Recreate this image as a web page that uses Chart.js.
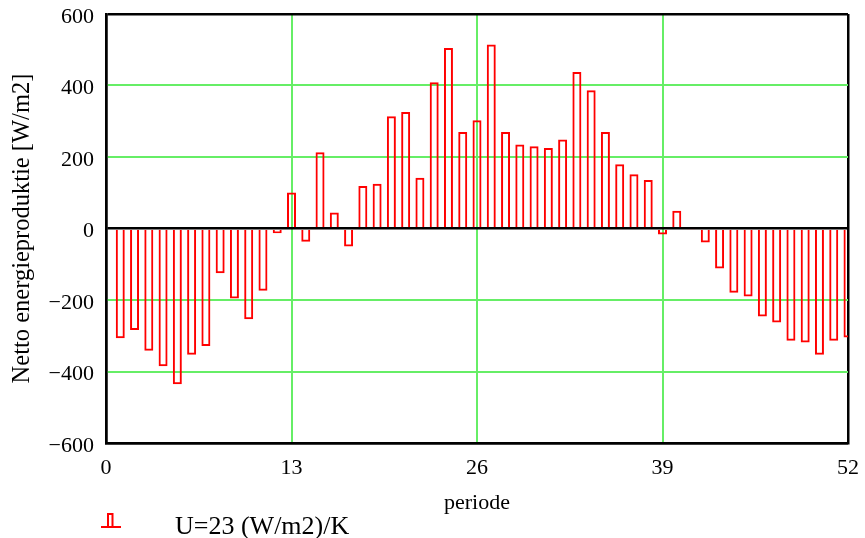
<!DOCTYPE html>
<html>
<head>
<meta charset="utf-8">
<script src="https://cdn.jsdelivr.net/npm/chart.js@4/dist/chart.umd.min.js"></script>
<style>
  html, body { margin: 0; padding: 0; background: #ffffff; }
  #wrap { width: 865px; height: 538px; position: relative; }
</style>
</head>
<body>
<div id="wrap"><canvas id="c" width="865" height="538"></canvas></div>
<script>
// ---- data ----
const periods = [1,2,3,4,5,6,7,8,9,10,11,12,13,14,15,16,17,18,19,20,21,22,23,24,25,26,
                 27,28,29,30,31,32,33,34,35,36,37,38,39,40,41,42,43,44,45,46,47,48,49,50,51,52];
const netProduction = [-307,-284,-342,-385,-436,-353,-329,-125,-196,-254,-174,-13,101,-37,213,45,-50,119,125,314,326,142,409,505,270,303,
                       515,270,235,230,225,249,438,387,270,180,152,136,-17,50,-3,-39,-112,-180,-190,-246,-263,-314,-319,-353,-314,-305];
const seriesLabel = 'U=23 (W/m2)/K';
const xTitle = 'periode';
const yTitle = 'Netto energieproduktie [W/m2]';
const xTicks = [0, 13, 26, 39, 52];
const yTicks = [-600, -400, -200, 0, 200, 400, 600];

const GRID_GREEN = '#66ee66';
const FONT = '"Liberation Serif", "Times New Roman", serif';

const points = periods.map((p, i) => ({ x: p, y: netProduction[i] }));

const legendPlugin = {
  id: 'mathcadLegend',
  afterDraw(chart) {
    const ctx = chart.ctx;
    const ds = chart.data.datasets[0];
    ctx.save();
    ctx.strokeStyle = ds.borderColor;
    ctx.lineWidth = 2;
    ctx.beginPath();
    ctx.moveTo(101, 527); ctx.lineTo(121, 527);
    ctx.moveTo(108, 527); ctx.lineTo(108, 514); ctx.lineTo(112.5, 514); ctx.lineTo(112.5, 527);
    ctx.stroke();
    ctx.fillStyle = '#000000';
    ctx.font = '26px ' + FONT;
    ctx.textBaseline = 'alphabetic';
    ctx.textAlign = 'left';
    ctx.fillText(ds.label, 175, 534);
    ctx.restore();
  }
};

new Chart(document.getElementById('c'), {
  type: 'bar',
  data: {
    datasets: [{
      label: seriesLabel,
      data: points,
      backgroundColor: 'rgba(255,255,255,0)',
      borderColor: '#ff0000',
      borderWidth: 2,
      categoryPercentage: 1.0,
      barPercentage: 0.63
    }]
  },
  options: {
    responsive: false,
    animation: false,
    events: [],
    layout: { padding: { left: 0, right: 17, top: 14, bottom: 22 } },
    plugins: {
      legend: { display: false },
      tooltip: { enabled: false }
    },
    scales: {
      x: {
        type: 'linear',
        min: 0, max: 52,
        offset: false,
        afterBuildTicks(scale) { scale.ticks = xTicks.map(v => ({ value: v })); },
        afterFit(scale) { scale.height = 73; scale.paddingLeft = 0; scale.paddingRight = 0; },
        grid: {
          drawTicks: false,
          offset: false,
          color: ctx => (ctx.tick && (ctx.tick.value === 0 || ctx.tick.value === 52)) ? '#000000' : GRID_GREEN,
          lineWidth: ctx => (ctx.tick && (ctx.tick.value === 0 || ctx.tick.value === 52)) ? 2.5 : 2
        },
        border: { display: true, color: '#000000', width: 2.5 },
        ticks: {
          padding: 12,
          color: '#000000',
          font: { family: FONT, size: 22 },
          maxRotation: 0,
          autoSkip: false
        },
        title: {
          display: true,
          text: xTitle,
          color: '#000000',
          font: { family: FONT, size: 22 },
          padding: { top: 0, bottom: 0 }
        }
      },
      y: {
        type: 'linear',
        min: -600, max: 600,
        afterBuildTicks(scale) { scale.ticks = yTicks.map(v => ({ value: v })); },
        afterFit(scale) { scale.width = 106; scale.paddingTop = 0; scale.paddingBottom = 0; },
        grid: {
          drawTicks: false,
          color: ctx => (ctx.tick && (ctx.tick.value === 0 || ctx.tick.value === 600 || ctx.tick.value === -600)) ? '#000000' : GRID_GREEN,
          lineWidth: ctx => (ctx.tick && (ctx.tick.value === 0 || ctx.tick.value === 600 || ctx.tick.value === -600)) ? 2.5 : 2
        },
        border: { display: true, color: '#000000', width: 2.5 },
        ticks: {
          padding: 12,
          labelOffset: 3,
          color: '#000000',
          font: { family: FONT, size: 22 },
          callback: v => (v < 0 ? '\u2212' + Math.abs(v) : String(v))
        },
        title: {
          display: true,
          text: yTitle,
          color: '#000000',
          font: { family: FONT, size: 24.5 },
          padding: { top: 8, bottom: 0 }
        }
      }
    }
  },
  plugins: [legendPlugin]
});
</script>
</body>
</html>
